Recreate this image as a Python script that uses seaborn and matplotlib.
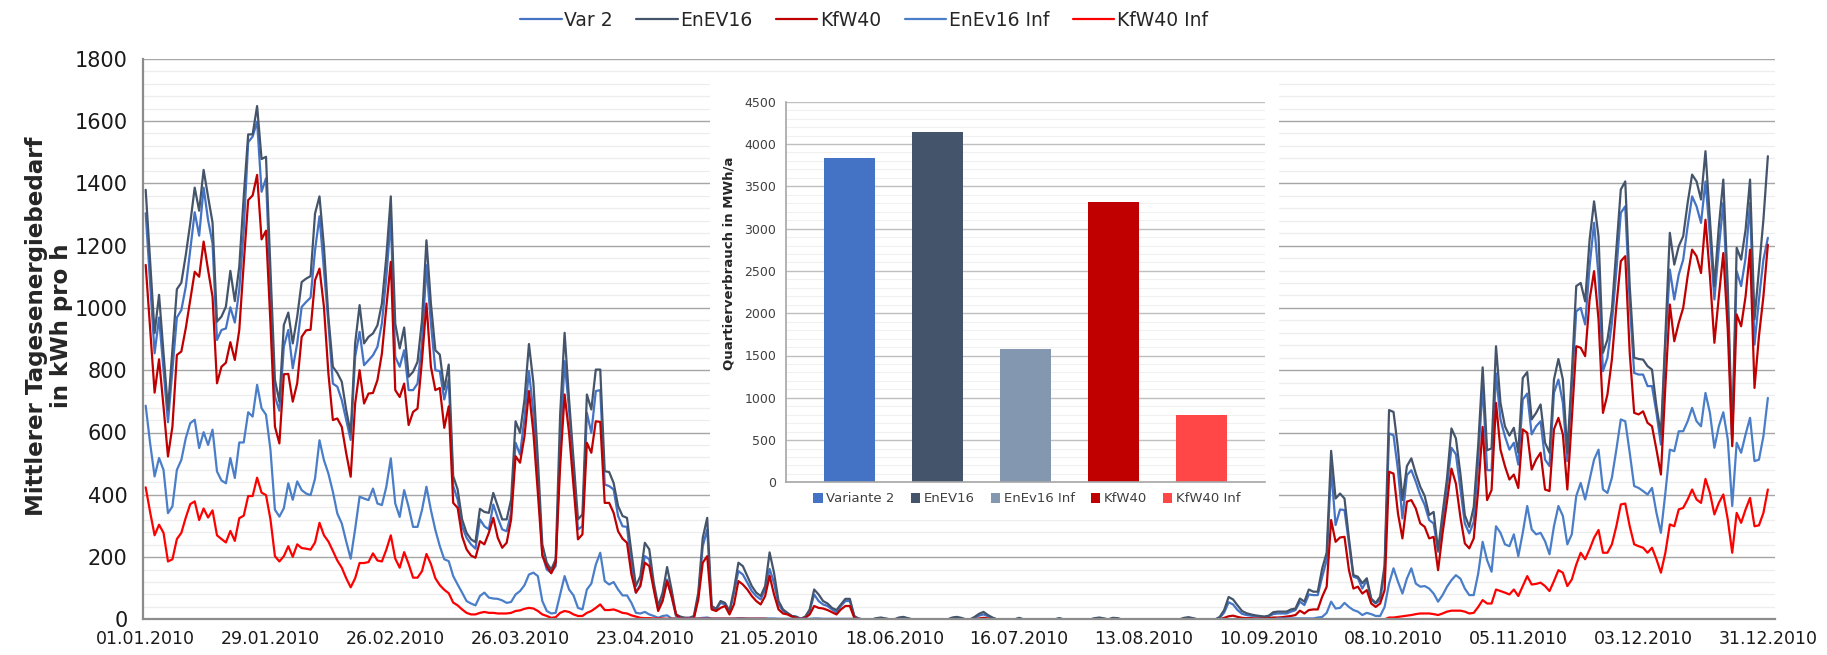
import matplotlib
matplotlib.use("Agg")
import numpy as np
import pandas as pd
import matplotlib.pyplot as plt
import seaborn as sns
from matplotlib.ticker import MultipleLocator, FixedLocator
from matplotlib.patches import Patch

# ---------------- data ----------------
tage = pd.date_range("2010-01-01", "2010-12-31", freq="D")
serien = ["Var 2", "EnEV16", "KfW40", "EnEv16 Inf", "KfW40 Inf"]
farben_linien = ["#4472C4", "#44546A", "#C00000", "#4A7EC8", "#FF0000"]

var2 = [
    1304, 1079, 854, 969, 801, 633, 801, 969, 993, 1068, 1186, 1307, 1232, 1386, 1282, 1207, 897, 929, 934, 1002,
    953, 1058, 1250, 1532, 1550, 1598, 1373, 1416, 1058, 715, 670, 876, 929, 806, 886,
    1003, 1019, 1033, 1185, 1294, 1121, 950, 757, 747, 704, 640, 576, 843, 923, 816, 832, 848, 875, 950, 1099,
    1287, 843, 811, 864, 736, 736, 757, 886, 1137, 950, 800,
    797, 706, 770, 428, 385, 299, 262, 241, 227, 321, 299, 289, 369, 326, 289, 283, 342, 567, 529, 647,
    797, 663, 460, 209, 160, 150, 171, 556, 829, 674, 481, 289, 299, 663, 599, 733, 736, 433, 428, 417,
    332, 299, 297, 171, 86, 112, 203, 193, 107, 32, 64, 128, 75, 11, 5, 5, 5, 5, 75, 235,
    289, 37, 32, 53, 48, 21, 86, 155, 144, 118, 91, 75, 64, 96,
    162, 117, 48, 27, 19, 11, 7, 2, 7, 27, 80, 59, 48, 43, 32, 23, 43, 59, 59, 9, 2,
    0, 0, 0, 3, 4, 2, 0, 0, 4, 6,
    3, 0, 0, 0, 0, 0, 0, 0, 0, 0,
    4, 6, 3, 0, 0, 5, 12, 16, 10, 4,
    0, 0, 0, 0, 0, 3, 0, 0, 0, 0,
    0, 0, 0, 0, 3, 0, 0, 0, 0, 0,
    0, 0, 3, 4, 2, 0, 3, 3, 0, 0,
    0, 0, 0, 0, 0, 0, 0, 0, 0, 0,
    0, 0, 3, 5, 3, 0, 0, 0, 0, 0,
    5, 22, 55, 48, 30, 18, 14, 12, 10, 9,
    8, 10, 17,
    19, 19, 19, 25, 30, 57, 46, 80, 78, 78, 137, 190, 484, 303, 353, 351, 244, 137, 132, 99,
    126, 62, 51, 62, 158, 597, 591, 479, 324, 463, 479, 442, 399, 367, 319, 308, 217, 308, 426, 551,
    530, 420, 308, 276, 313, 511, 752, 479, 479,
    790, 642, 588, 545, 567, 497, 706, 725, 594, 620, 636, 513, 492, 727, 770, 695, 508, 749, 989, 1000,
    947, 1134, 1273, 1102, 797, 840, 952, 1118, 1305, 1326, 1016, 791, 786, 786, 749, 749, 663, 561, 888, 1123,
    1027, 1107, 1155, 1262, 1358, 1326, 1273, 1406, 1230, 1027, 1192, 1337, 1005, 567, 1118, 1070, 1160, 1337, 882, 1027,
    1155, 1225,
]

enev16 = [
    1379, 1149, 919, 1042, 855, 673, 865, 1060, 1081, 1170, 1272, 1386, 1312, 1443, 1357, 1274, 956, 972, 1004, 1119,
    1022, 1133, 1357, 1557, 1557, 1648, 1478, 1485, 1122, 769, 699, 945, 985, 886, 972,
    1083, 1094, 1102, 1303, 1358, 1196, 971, 811, 791, 763, 672, 597, 886, 1009, 886, 907, 918, 944, 1014, 1164,
    1358, 950, 870, 937, 779, 795, 827, 960, 1217, 1014, 864,
    850, 738, 818, 460, 417, 321, 278, 257, 248, 355, 345, 342, 406, 364, 321, 321, 385, 636, 599, 706,
    884, 759, 513, 241, 182, 160, 193, 658, 920, 706, 513, 321, 337, 722, 674, 802, 802, 476, 473, 438,
    364, 332, 326, 214, 107, 139, 246, 225, 118, 43, 86, 168, 96, 16, 9, 5, 5, 11, 86, 262,
    326, 43, 34, 59, 53, 27, 96, 182, 171, 139, 107, 86, 75, 107,
    215, 149, 59, 32, 21, 11, 9, 2, 9, 32, 96, 80, 59, 51, 37, 30, 48, 66, 66, 11, 2,
    0, 0, 0, 4, 6, 3, 0, 0, 6, 8,
    4, 0, 0, 0, 0, 0, 0, 0, 0, 0,
    6, 8, 5, 0, 0, 8, 18, 24, 14, 6,
    0, 0, 0, 0, 0, 5, 0, 0, 0, 0,
    0, 0, 0, 0, 4, 0, 0, 0, 0, 0,
    0, 0, 4, 6, 3, 0, 5, 4, 0, 0,
    0, 0, 0, 0, 0, 0, 0, 0, 0, 0,
    0, 0, 5, 7, 4, 0, 0, 0, 0, 0,
    8, 30, 72, 64, 45, 27, 20, 16, 13, 11,
    9, 12, 23,
    25, 25, 25, 32, 35, 67, 57, 96, 89, 89, 164, 214, 541, 388, 404, 388, 260, 142, 137, 116,
    132, 67, 53, 73, 174, 672, 666, 549, 383, 492, 517, 468, 426, 396, 335, 345, 222, 340, 452, 613,
    581, 468, 335, 297, 361, 559, 809, 543, 549,
    877, 695, 620, 590, 615, 535, 775, 794, 642, 663, 690, 567, 535, 770, 836, 770, 535, 786, 1070, 1080,
    1021, 1219, 1342, 1230, 856, 898, 995, 1187, 1380, 1406, 1070, 840, 836, 834, 813, 802, 684, 594, 909, 1241,
    1139, 1198, 1230, 1337, 1428, 1406, 1348, 1503, 1283, 1070, 1262, 1412, 1070, 588, 1193, 1155, 1251, 1412, 963, 1123,
    1283, 1487,
]

kfw40 = [
    1138, 935, 728, 835, 683, 523, 619, 849, 860, 935, 1025, 1116, 1100, 1213, 1122, 1036, 758, 811, 824, 890,
    833, 929, 1143, 1346, 1361, 1427, 1220, 1248, 950, 619, 565, 787, 788, 699, 758,
    907, 928, 930, 1089, 1126, 1003, 789, 640, 645, 618, 533, 458, 693, 800, 693, 725, 727, 768, 853, 1003,
    1148, 736, 714, 757, 624, 666, 677, 832, 1014, 811, 736,
    743, 615, 684, 374, 358, 267, 225, 205, 198, 251, 241, 278, 326, 262, 230, 246, 321, 524, 503, 588,
    733, 599, 406, 205, 171, 148, 182, 492, 722, 599, 428, 257, 273, 567, 535, 636, 634, 374, 374, 342,
    283, 259, 246, 144, 86, 107, 182, 171, 96, 27, 59, 123, 75, 16, 3, 3, 3, 3, 64, 182,
    203, 32, 27, 37, 43, 16, 48, 123, 112, 96, 75, 59, 48, 75,
    140, 80, 32, 19, 16, 9, 5, 2, 5, 16, 43, 37, 35, 30, 23, 16, 32, 43, 43, 5, 2,
    0, 0, 0, 0, 0, 0, 0, 0, 0, 0,
    0, 0, 0, 0, 0, 0, 0, 0, 0, 0,
    0, 0, 0, 0, 0, 0, 3, 5, 3, 0,
    0, 0, 0, 0, 0, 0, 0, 0, 0, 0,
    0, 0, 0, 0, 0, 0, 0, 0, 0, 0,
    0, 0, 0, 0, 0, 0, 0, 0, 0, 0,
    0, 0, 0, 0, 0, 0, 0, 0, 0, 0,
    0, 0, 0, 0, 0, 0, 0, 0, 0, 0,
    0, 5, 10, 12, 8, 5, 4, 4, 3, 3,
    3, 4, 6,
    6, 7, 9, 11, 14, 28, 19, 30, 32, 32, 73, 105, 319, 249, 263, 265, 158, 99, 105, 83,
    94, 51, 40, 51, 94, 474, 468, 340, 260, 378, 383, 356, 308, 297, 260, 265, 158, 276, 378, 484,
    436, 329, 244, 228, 260, 415, 618, 383, 415,
    695, 545, 492, 449, 465, 422, 610, 599, 481, 513, 535, 417, 412, 610, 647, 594, 417, 642, 877, 872,
    845, 1027, 1118, 963, 663, 722, 834, 1005, 1150, 1166, 856, 663, 658, 668, 631, 620, 545, 465, 749, 1011,
    893, 952, 1000, 1102, 1187, 1166, 1112, 1283, 1102, 888, 1037, 1176, 930, 556, 979, 941, 1037, 1187, 743, 909,
    1037, 1203,
]

enev16_inf = [
    686, 565, 459, 518, 480, 341, 363, 480, 512, 582, 630, 641, 550, 601, 560, 609, 475, 446, 437, 518,
    454, 568, 568, 665, 651, 753, 678, 657, 544, 352, 330, 357, 437, 384, 443,
    415, 404, 399, 452, 575, 511, 468, 410, 340, 308, 250, 195, 290, 394, 388, 383, 420, 372, 367, 426,
    517, 372, 329, 415, 361, 297, 297, 351, 426, 351, 287,
    235, 193, 187, 139, 112, 86, 59, 51, 45, 75, 86, 70, 67, 66, 61, 53, 56, 80, 91, 110,
    144, 150, 139, 59, 27, 19, 21, 80, 139, 96, 77, 37, 32, 96, 115, 176, 214, 123, 112, 120,
    96, 77, 77, 53, 21, 19, 24, 16, 11, 5, 11, 13,
    3, 3, 3, 3, 3, 3, 3, 5, 6, 3, 3, 3, 3, 3, 3, 4, 4, 3, 3, 3, 3, 3,
    3, 3, 2, 2, 2, 2, 2, 2, 2, 2, 3, 3, 2, 2, 2, 2, 2, 2, 2, 2, 2,
    0, 0, 0, 0, 0, 0, 0, 0, 0, 0,
    0, 0, 0, 0, 0, 0, 0, 0, 0, 0,
    0, 0, 0, 0, 0, 0, 0, 0, 0, 0,
    0, 0, 0, 0, 0, 0, 0, 0, 0, 0,
    0, 0, 0, 0, 0, 0, 0, 0, 0, 0,
    0, 0, 0, 0, 0, 0, 0, 0, 0, 0,
    0, 0, 0, 0, 0, 0, 0, 0, 0, 0,
    0, 0, 0, 0, 0, 0, 0, 0, 0, 0,
    0, 0, 0, 0, 0, 0, 0, 0, 0, 0,
    0, 0, 0,
    3, 3, 3, 3, 3, 3, 3, 3, 3, 6, 8, 21, 57, 35, 37, 53, 40, 30, 25, 14,
    21, 17, 11, 11, 40, 115, 164, 121, 83, 131, 164, 115, 105, 107, 99, 83, 57, 78, 105, 126,
    142, 131, 99, 78, 78, 147, 249, 190, 153,
    299, 278, 241, 235, 273, 203, 278, 364, 289, 273, 278, 251, 209, 299, 364, 332, 241, 273, 396, 438,
    385, 449, 513, 545, 417, 406, 455, 545, 642, 636, 535, 428, 422, 412, 401, 422, 342, 278, 406, 545,
    540, 604, 604, 636, 679, 636, 620, 727, 663, 551, 620, 665, 578, 364, 567, 535, 594, 647, 508, 513,
    588, 711,
]

kfw40_inf = [
    424, 344, 270, 304, 278, 186, 193, 258, 278, 327, 370, 379, 319, 356, 327, 350, 270, 258, 247, 284,
    252, 325, 333, 396, 396, 455, 407, 399, 321, 203, 186, 203, 235, 201, 241, 229, 227, 224, 247, 310,
    270, 250, 220, 189, 166, 132, 103, 132, 181, 181, 184, 212, 189, 186, 224, 270, 195, 166, 216, 178,
    134, 134, 155, 210, 178, 132, 110, 95, 84, 54, 45,
    32, 21, 16, 16, 21, 24, 21, 21, 19, 19, 19, 21, 27, 29, 34, 37, 35, 27, 16, 11,
    5, 7, 21, 27, 24, 16, 11, 11, 21, 27, 37, 48, 30, 30, 32, 27, 21, 19, 13, 9,
    5, 4, 4, 3, 3, 3, 2, 2, 2, 2, 2, 2, 2, 2, 2, 2, 2, 2, 2, 2, 2, 2, 2, 2, 2, 2, 2, 2, 2,
    0, 0, 0, 0, 0, 0, 0, 0, 0, 0, 0, 0, 0, 0, 0, 0, 0, 0, 0, 0,
    0, 0, 0, 0, 0, 0, 0, 0, 0, 0, 0, 0, 0, 0, 0, 0, 0, 0, 0, 0,
    0, 0, 0, 0, 0, 0, 0, 0, 0, 0, 0, 0, 0, 0, 0, 0, 0, 0, 0, 0,
    0, 0, 0, 0, 0, 0, 0, 0, 0, 0, 0, 0, 0, 0, 0, 0, 0, 0, 0, 0,
    0, 0, 0, 0, 0, 0, 0, 0, 0, 0, 0, 0, 0, 0, 0, 0, 0, 0, 0, 0,
    0, 0, 0, 0, 0, 0, 0, 0, 0, 0, 0, 0, 0, 0, 0, 0, 0, 0, 0, 0,
    0, 0, 0, 0, 0, 0, 0, 0, 0, 0, 0, 0, 0, 0, 0, 0, 0, 0, 0,
    6, 6, 8, 10, 12, 14, 17, 19, 19, 19, 17, 14, 19, 25, 28, 28, 28, 25, 19, 21,
    40, 62, 51, 51,
    96, 91, 86, 80, 96, 75, 107, 139, 112, 114, 118, 107, 91, 123, 158, 150, 107, 128, 176, 214,
    193, 225, 262, 287, 214, 214, 241, 299, 369, 372, 299, 241, 235, 230, 214, 230, 193, 150, 214, 305,
    299, 353, 358, 385, 417, 385, 374, 451, 406, 337, 374, 401, 321, 214, 342, 310, 353, 390, 299, 302,
    342, 417,
]

kategorien = ["Variante 2", "EnEV16", "EnEv16 Inf", "KfW40", "KfW40 Inf"]
quartier_mwh = [3840, 4145, 1580, 3310, 800]
farben_balken = ["#4472C4", "#44546A", "#8497B0", "#C00000", "#FF4747"]

werte = [var2, enev16, kfw40, enev16_inf, kfw40_inf]
for w in werte:
    assert len(w) == len(tage), len(w)

# ---------------- figure ----------------
sns.set_style("white")
plt.rcParams["font.family"] = ["DejaVu Sans"]

W, H = 1827, 655
fig = plt.figure(figsize=(W / 100, H / 100), dpi=100)

def fx(px):
    return px / W

def fy(py):
    return 1 - py / H

ax = fig.add_axes([fx(142.7), fy(619.4), fx(1775) - fx(142.7), fy(58.7) - fy(619.4)])

df = pd.concat(
    [pd.DataFrame({"Tag": np.arange(len(tage)), "Wert": w, "Serie": s}) for s, w in zip(serien, werte)],
    ignore_index=True,
)
sns.lineplot(data=df, x="Tag", y="Wert", hue="Serie", hue_order=serien,
             palette=dict(zip(serien, farben_linien)), linewidth=1.6,
             estimator=None, ax=ax, legend=True)

ax.set_xlim(-0.67, 365.6)
ax.set_ylim(0, 1800)
ax.yaxis.set_major_locator(MultipleLocator(200))
ax.yaxis.set_minor_locator(MultipleLocator(40))
ax.grid(which="major", axis="y", color="#A6A6A6", linewidth=1.0)
ax.grid(which="minor", axis="y", color="#EDEDED", linewidth=0.9)
ax.grid(which="both", axis="x", visible=False)
ax.set_axisbelow(True)

tick_tage = list(range(0, 365, 28))
ax.set_xticks(tick_tage)
ax.set_xticklabels([tage[i].strftime("%d.%m.%Y") for i in tick_tage], fontsize=12.5, color="#1a1a1a")
ax.xaxis.set_minor_locator(FixedLocator(np.arange(len(tage))))
ax.tick_params(axis="x", which="both", direction="out", length=4.5, width=1.0, color="#8C8C8C", pad=3)
ax.tick_params(axis="y", which="major", direction="out", length=5, width=1.0, color="#8C8C8C",
               labelsize=15, labelcolor="#1a1a1a", pad=6)
ax.tick_params(axis="y", which="minor", length=0)
for s in ["top", "right"]:
    ax.spines[s].set_visible(False)
for s in ["left", "bottom"]:
    ax.spines[s].set_color("#8C8C8C")
    ax.spines[s].set_linewidth(1.6)
ax.set_xlabel("")
ax.set_ylabel("")

fig.text(fx(49), fy(326), "Mittlerer Tagesenergiebedarf\nin kWh pro h", rotation=90,
         ha="center", va="center", fontsize=16.6, fontweight="bold", linespacing=1.1)

handles, labels = ax.get_legend_handles_labels()
ax.get_legend().remove()
fig.legend(handles, labels, loc="center", bbox_to_anchor=(fx(864), fy(20)), ncol=5, frameon=False,
           fontsize=13.5, handlelength=2.2, handletextpad=0.15, columnspacing=1.25)

# ---------------- inset ----------------
bg = fig.add_axes([fx(710), fy(520), fx(1279) - fx(710), fy(80) - fy(520)])
bg.set_facecolor("white")
bg.set_xticks([])
bg.set_yticks([])
for s in bg.spines.values():
    s.set_visible(False)

ins = fig.add_axes([fx(786), fy(482.4), fx(1265) - fx(786), fy(101.7) - fy(482.4)])
sns.barplot(x=kategorien, y=quartier_mwh, hue=kategorien, palette=farben_balken, width=0.58,
            saturation=1, legend=False, ax=ins, linewidth=0)
ins.set_xlim(-0.72, 4.72)
ins.set_ylim(0, 4500)
ins.yaxis.set_major_locator(MultipleLocator(500))
ins.yaxis.set_minor_locator(MultipleLocator(100))
ins.grid(which="major", axis="y", color="#BFBFBF", linewidth=1.0)
ins.grid(which="minor", axis="y", color="#F0F0F0", linewidth=0.8)
ins.grid(which="both", axis="x", visible=False)
ins.set_axisbelow(True)
ins.set_xticks([])
ins.tick_params(axis="y", which="major", direction="out", length=4, width=1.0, color="#8C8C8C",
                labelsize=9, labelcolor="#404040", pad=3)
ins.tick_params(axis="y", which="minor", length=0)
for s in ["top", "right"]:
    ins.spines[s].set_visible(False)
for s in ["left", "bottom"]:
    ins.spines[s].set_color("#A6A6A6")
    ins.spines[s].set_linewidth(1.2)
ins.set_xlabel("")
ins.set_ylabel("")

fig.text(fx(729), fy(263), "Quartierverbrauch in MWh/a", rotation=90, ha="center", va="center",
         fontsize=9.5, fontweight="bold")

patches = [Patch(facecolor=c, edgecolor="none") for c in farben_balken]
fig.legend(patches, kategorien, loc="center", bbox_to_anchor=(fx(1027), fy(499)), ncol=5, frameon=False,
           fontsize=9.5, handlelength=0.7, handleheight=0.7, handletextpad=0.3, columnspacing=1.2,
           labelcolor="#404040")

fig.savefig("out.png", dpi=100)
